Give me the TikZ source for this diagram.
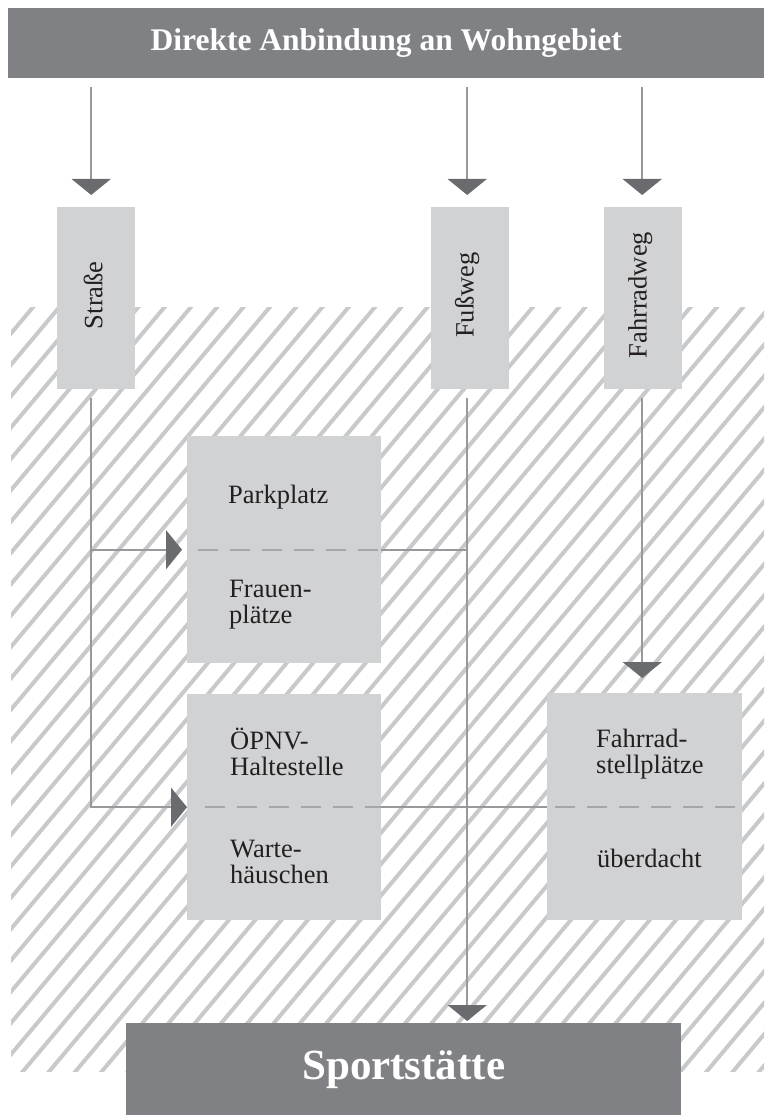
\documentclass[tikz,border=0pt]{standalone}
\usepackage{fontspec}
\setmainfont{Liberation Serif}
\usetikzlibrary{arrows.meta}
\definecolor{barc}{RGB}{128,129,133}
\definecolor{boxc}{RGB}{209,210,212}
\definecolor{linec}{RGB}{152,153,156}
\definecolor{tipc}{RGB}{106,107,111}
\definecolor{sepc}{RGB}{165,166,168}
\definecolor{hatchc}{RGB}{200,201,203}
\definecolor{ink}{RGB}{35,31,32}
\tikzset{
  darkbox/.style={fill=barc, text=white, inner sep=0pt, anchor=north west},
  lightbox/.style={fill=boxc, inner sep=0pt, anchor=north west},
  conn/.style={draw=linec, line width=1.8pt},
  tip/.style={-{Triangle[width=39pt,length=16pt,color=tipc]}},
  sepline/.style={draw=sepc, line width=2pt, dash pattern=on 20pt off 12pt},
  hatch/.style={draw=hatchc, line width=4pt},
  lbl/.style={font=\fontsize{26.5}{26}\selectfont, align=left, anchor=base west, inner sep=0pt, text=ink},
  vlbl/.style={font=\fontsize{26.5}{26}\selectfont, rotate=90, inner sep=0pt, text=ink},
}
\begin{document}
\begin{tikzpicture}[x=1pt,y=-1pt]
\useasboundingbox (0,0) rectangle (764,1115);
% hatched area
\begin{scope}
  \clip (11,307) rectangle (764,1071);
  \foreach \i in {-28,...,30} {
    \draw[hatch] ({42+26.3*\i},1080) -- ++(678.5,-808.6);
  }
\end{scope}
% boxes
\node[darkbox, minimum width=756pt, minimum height=70pt, font=\bfseries\fontsize{31.5}{31.5}\selectfont] (top) at (8,8) {Direkte Anbindung an Wohngebiet};
\node[lightbox, minimum width=78pt, minimum height=182pt] (str) at (57,207) {};
\node[lightbox, minimum width=78pt, minimum height=182pt] (fuss) at (431,207) {};
\node[lightbox, minimum width=78pt, minimum height=182pt] (fahr) at (604,207) {};
\node[vlbl] (strt) at ([xshift=-3pt,yshift=3pt]str.center) {Straße};
\node[vlbl] (fusst) at ([xshift=-3pt,yshift=3pt]fuss.center) {Fußweg};
\node[vlbl] (fahrt) at ([xshift=-3pt,yshift=3pt]fahr.center) {Fahrradweg};
\node[lightbox, minimum width=194pt, minimum height=227pt] (park) at (187,436) {};
\node[lightbox, minimum width=194pt, minimum height=226pt] (oepnv) at (187,694) {};
\node[lightbox, minimum width=195pt, minimum height=227pt] (fstell) at (547,693) {};
\node[darkbox, minimum width=555pt, minimum height=92pt, font=\bfseries\fontsize{43}{43}\selectfont] (sport) at (126,1023) {Sportstätte};
% separators
\draw[sepline] ([xshift=11pt]park.west) -- (park.east);
\draw[sepline] ([xshift=18pt]oepnv.west) -- (oepnv.east);
\draw[sepline] ([xshift=8pt]fstell.west) -- ([xshift=-6pt]fstell.east);
% labels (base = baseline of last line)
\node[lbl] (parkt) at (228,503) {Parkplatz};
\node[lbl] (frauent) at (229,623) {Frauen-\\plätze};
\node[lbl] (oepnvt) at (230,775) {ÖPNV-\\Haltestelle};
\node[lbl] (wartet) at (230,883) {Warte-\\häuschen};
\node[lbl] (fstellt) at (596,773) {Fahrrad-\\stellplätze};
\node[lbl] (dacht) at (597,867) {überdacht};
% connectors from top
\draw[conn, tip, shorten <=9pt, shorten >=12pt] ([xshift=-5pt]str.north |- top.south) -- ([xshift=-5pt]str.north);
\draw[conn, tip, shorten <=9pt, shorten >=12pt] ([xshift=-3pt]fuss.north |- top.south) -- ([xshift=-3pt]fuss.north);
\draw[conn, tip, shorten <=9pt, shorten >=12pt] ([xshift=-1pt]fahr.north |- top.south) -- ([xshift=-1pt]fahr.north);
% Strasse
\draw[conn, tip, shorten <=9pt] ([xshift=-5pt]str.south) |- (oepnv.west);
\draw[conn, tip, shorten >=5pt] ([xshift=-5pt]str.south |- park.west) -- (park.west);
% Fussweg
\draw[conn, tip, shorten <=9pt, shorten >=2pt] ([xshift=-3pt]fuss.south) -- ([xshift=-3pt]fuss.south |- sport.north);
\draw[conn] ([xshift=-3pt]fuss.south |- park.east) -- (park.east);
\draw[conn] (oepnv.east) -- (oepnv.east -| fstell.west);
% Fahrradweg
\draw[conn, tip, shorten <=9pt, shorten >=15pt] ([xshift=-1pt]fahr.south) -- ([xshift=-1pt]fahr.south |- fstell.north);
\end{tikzpicture}
\end{document}
